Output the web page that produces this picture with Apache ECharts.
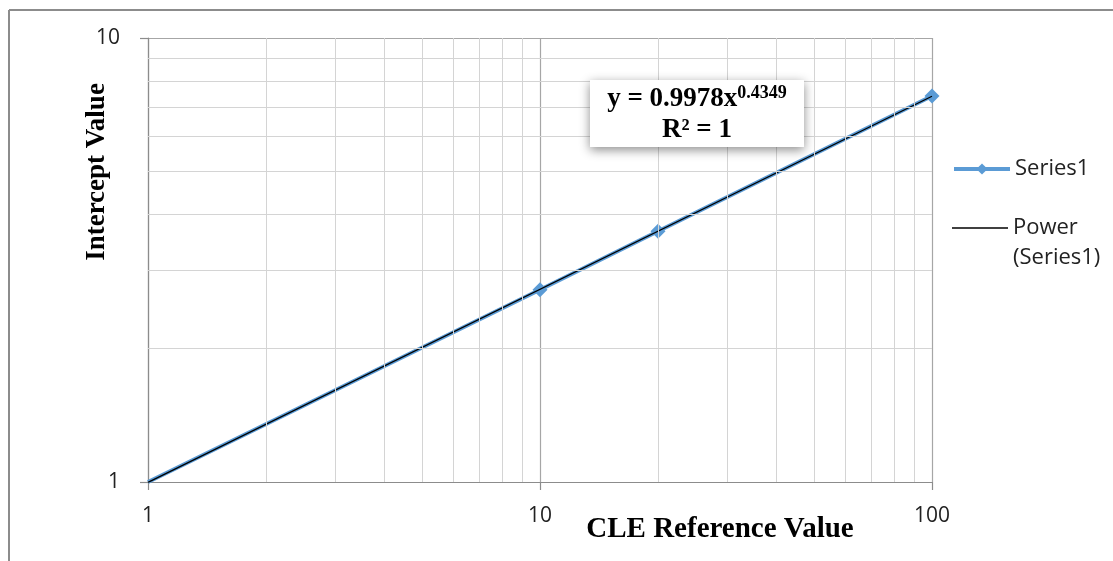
<!DOCTYPE html>
<html>
<head>
<meta charset="utf-8">
<script src="https://cdn.jsdelivr.net/npm/echarts@6/dist/echarts.min.js"></script>
<style>
html,body{margin:0;padding:0;background:#fff;}
#chart{width:1113px;height:561px;}
</style>
</head>
<body>
<div id="chart"></div>
<script>
// ---- data ----
var seriesX = [1, 10, 20, 100];
var seriesY = [1.0, 2.71, 3.67, 7.40];
var trendX = [1, 100];
var trendY = [0.9978, 7.393];
var xMinorGrid = [2, 3, 4, 5, 6, 7, 8, 9, 20, 30, 40, 50, 60, 70, 80, 90];
var yMinorGrid = [2, 3, 4, 5, 6, 7, 8, 9];
var seriesName = 'Series1';
var trendName = 'Power (Series1)';
var xTitle = 'CLE Reference Value';
var yTitle = 'Intercept Value';
var eqMain = 'y = 0.9978x';
var eqExp = '0.4349';
var eqR2 = 'R² = 1';

var labelFont = '"Open Sans", "Liberation Sans", sans-serif';
var serifFont = '"Liberation Serif", "DejaVu Serif", serif';

var s1Data = seriesX.map(function (x, i) {
  var item = { value: [x, seriesY[i]] };
  if (i === 0) item.symbolSize = 0;
  return item;
});
var trendData = trendX.map(function (x, i) { return [x, trendY[i]]; });

var chart = echarts.init(document.getElementById('chart'), null, { renderer: 'canvas' });
chart.setOption({
  animation: false,
  backgroundColor: '#ffffff',
  grid: { left: 148, right: 181, top: 38, bottom: 79, containLabel: false, outerBoundsMode: 'none' },
  xAxis: {
    type: 'log', logBase: 10, min: 1, max: 100, splitNumber: 2,
    name: xTitle, nameLocation: 'middle', nameGap: 33, nameMoveOverlap: false,
    nameTextStyle: { fontFamily: serifFont, fontWeight: 'bold', fontSize: 29, color: '#000', padding: [0, 0, 0, 360] },
    axisLine: { show: true, lineStyle: { color: '#8c8c8c', width: 1.2 } },
    axisTick: { show: true, length: 8, lineStyle: { color: '#8c8c8c', width: 1.2 } },
    axisLabel: { fontFamily: labelFont, fontSize: 21, color: '#222', margin: 24 },
    splitLine: { show: true, lineStyle: { color: '#a6a6a6', width: 1.2 } }
  },
  yAxis: {
    type: 'log', logBase: 10, min: 1, max: 10, splitNumber: 1,
    name: yTitle, nameLocation: 'middle', nameGap: 37, nameRotate: 90, nameMoveOverlap: false,
    nameTextStyle: { fontFamily: serifFont, fontWeight: 'bold', fontSize: 27, color: '#000', padding: [0, 0, 0, 176] },
    axisLine: { show: true, lineStyle: { color: '#8c8c8c', width: 1.2 } },
    axisTick: { show: true, length: 8, lineStyle: { color: '#8c8c8c', width: 1.2 } },
    axisLabel: { fontFamily: labelFont, fontSize: 21, color: '#222', margin: 28 },
    splitLine: { show: true, lineStyle: { color: '#a6a6a6', width: 1.2 } }
  },
  legend: [
    {
      data: [seriesName], orient: 'vertical', left: 947, top: 153,
      itemWidth: 56, itemHeight: 14,
      lineStyle: { width: 4 },
      textStyle: { fontFamily: labelFont, fontSize: 22, color: '#222' }
    },
    {
      data: [{ name: trendName, icon: 'rect' }], orient: 'vertical', left: 947, top: 178,
      itemWidth: 56, itemHeight: 1.5,
      itemStyle: { color: '#000' },
      formatter: function () { return ' \nPower\n(Series1)'; },
      textStyle: { fontFamily: labelFont, fontSize: 22, color: '#222', lineHeight: 30 }
    }
  ],
  series: [
    {
      name: 'grid-minor', type: 'line', data: [], silent: true, z: 1,
      markLine: {
        silent: true, symbol: 'none', animation: false,
        label: { show: false },
        lineStyle: { color: '#d4d4d4', width: 1, type: 'solid' },
        data: xMinorGrid.map(function (v) { return { xAxis: v }; })
          .concat(yMinorGrid.map(function (v) { return { yAxis: v }; }))
      }
    },
    {
      name: seriesName, type: 'line', data: s1Data, z: 3,
      symbol: 'diamond', symbolSize: 15, showSymbol: true,
      itemStyle: { color: '#5B9BD5' },
      lineStyle: { color: '#5B9BD5', width: 4 },
      clip: false
    },
    {
      name: trendName, type: 'line', data: trendData, z: 4,
      symbol: 'none', showSymbol: false,
      itemStyle: { color: '#000' },
      lineStyle: { color: '#000', width: 1.3 }
    }
  ],
  graphic: [
    { type: 'line', shape: { x1: 9, y1: 10, x2: 1113, y2: 10 }, style: { stroke: '#8c8c8c', lineWidth: 2 }, silent: true },
    { type: 'line', shape: { x1: 9, y1: 10, x2: 9, y2: 561 }, style: { stroke: '#8c8c8c', lineWidth: 2 }, silent: true },
    {
      type: 'group', left: 590, top: 80, z: 100,
      children: [
        { type: 'rect', z: 100, shape: { x: 0, y: 0, width: 214, height: 67 },
          style: { fill: '#fff', shadowBlur: 10, shadowColor: 'rgba(0,0,0,0.45)', shadowOffsetX: 0, shadowOffsetY: 3 } },
        { type: 'text', z: 101, x: 107, y: 35,
          style: {
            text: '{b|' + eqMain + '}{s|' + eqExp + '}\n{b|' + eqR2 + '}',
            align: 'center', verticalAlign: 'middle',
            rich: {
              b: { fontFamily: serifFont, fontWeight: 'bold', fontSize: 27, fill: '#000', lineHeight: 31 },
              s: { fontFamily: serifFont, fontWeight: 'bold', fontSize: 18, fill: '#000', lineHeight: 31, verticalAlign: 'top', padding: [0, 0, 8, 0] }
            }
          } }
      ]
    }
  ]
});
</script>
</body>
</html>
